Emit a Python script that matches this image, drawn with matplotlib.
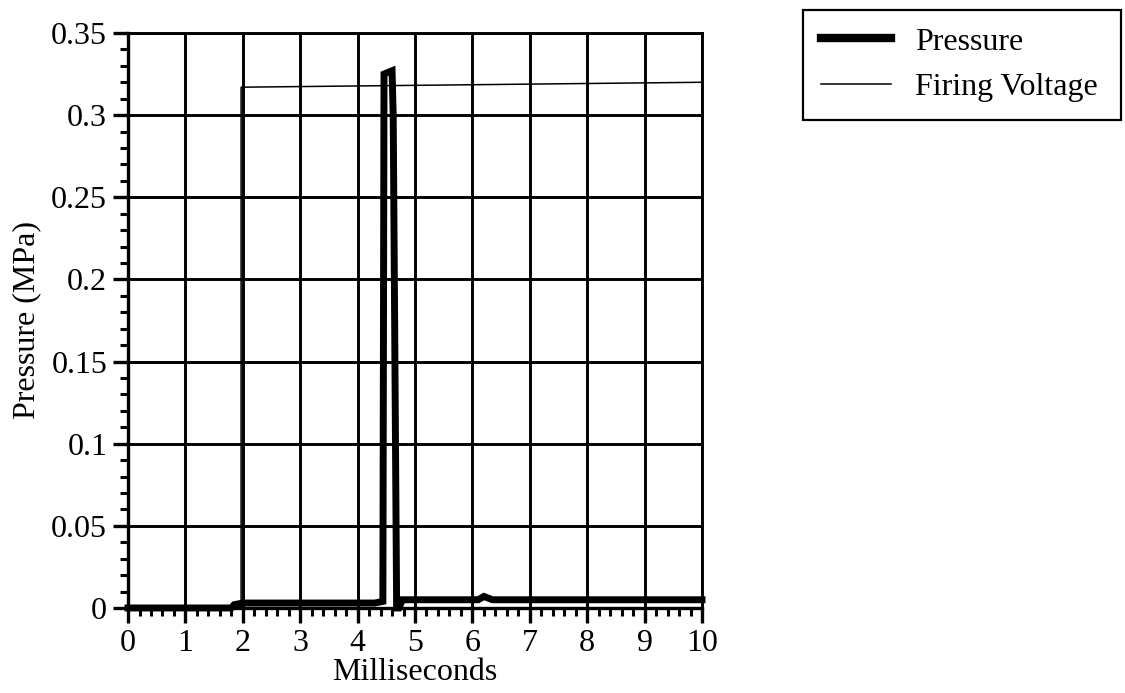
import matplotlib
matplotlib.use("Agg")
import matplotlib.pyplot as plt
from matplotlib.ticker import MultipleLocator, FormatStrFormatter

# Data
pressure_t = [0, 1.8, 1.85, 2.0, 4.3, 4.44, 4.46, 4.6, 4.62, 4.68, 4.72, 4.78, 6.1, 6.2, 6.35, 10]
pressure_v = [0, 0, 0.002, 0.003, 0.003, 0.004, 0.325, 0.327, 0.30, 0.0, 0.0, 0.005, 0.005, 0.007, 0.005, 0.005]

voltage_t = [0, 1.97, 1.97, 10]
voltage_v = [0, 0, 0.317, 0.320]

x_ticks = list(range(0, 11))
y_ticks = [0, 0.05, 0.1, 0.15, 0.2, 0.25, 0.3, 0.35]

plt.rcParams["font.family"] = ["Liberation Serif", "DejaVu Serif"]
plt.rcParams["font.size"] = 23

fig = plt.figure(figsize=(11.25, 6.93), dpi=100)
ax = fig.add_axes([0.1138, 0.1227, 0.5102, 0.8297])

ax.plot(pressure_t, pressure_v, color="black", lw=5, label="Pressure",
        clip_on=False, solid_joinstyle="miter", zorder=4)
ax.plot(voltage_t, voltage_v, color="black", lw=1.1, label="Firing Voltage",
        zorder=3)

ax.set_xlim(0, 10)
ax.set_ylim(0, 0.35)
ax.set_xticks(x_ticks)
ax.set_yticks(y_ticks)
ax.xaxis.set_minor_locator(MultipleLocator(0.2))
ax.yaxis.set_minor_locator(MultipleLocator(0.01))
ax.yaxis.set_major_formatter(FormatStrFormatter("%g"))

ax.grid(True, which="major", color="black", lw=2.1)
ax.set_axisbelow(True)
for side in ["left", "bottom"]:
    ax.spines[side].set_linewidth(2.4)
for side in ["top", "right"]:
    ax.spines[side].set_linewidth(2.1)

ax.tick_params(which="major", direction="out", length=11, width=2.4, pad=4,
               labelsize=23)
ax.tick_params(which="minor", direction="out", length=6, width=2.2)

ax.set_xlabel("Milliseconds", fontsize=23, labelpad=0)
ax.set_ylabel("Pressure (MPa)", fontsize=23, labelpad=7)

leg = ax.legend(loc="upper left", bbox_to_anchor=(0.714, 0.818, 0.282, 0.168),
                bbox_transform=fig.transFigure, mode="expand", borderaxespad=0,
                fancybox=False, framealpha=1, edgecolor="black",
                handlelength=2.2, handletextpad=0.75, labelspacing=0.5,
                borderpad=0.55, fontsize=23)
leg.get_frame().set_linewidth(1.6)
leg.get_lines()[0].set_linewidth(6)

fig.savefig("out.png", dpi=100)
